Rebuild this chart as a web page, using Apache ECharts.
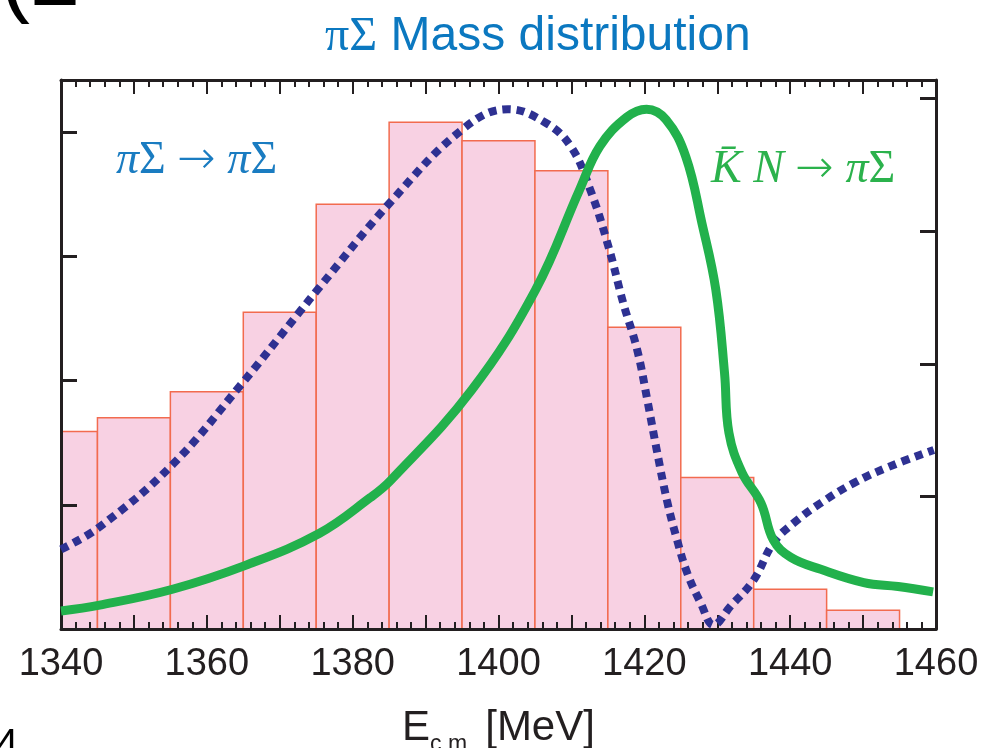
<!DOCTYPE html>
<html>
<head>
<meta charset="utf-8">
<script src="https://cdn.jsdelivr.net/npm/echarts@6/dist/echarts.min.js"></script>
<style>
  html, body { margin: 0; padding: 0; background: #fff; }
  #chart { width: 982px; height: 748px; }
</style>
</head>
<body>
<div id="chart"></div>
<script>
// histogram bins: [low edge, high edge, height]
var binLow  = [1340, 1345, 1355, 1365, 1375, 1385, 1395, 1405, 1415, 1425, 1435, 1445];
var binHigh = [1345, 1355, 1365, 1375, 1385, 1395, 1405, 1415, 1425, 1435, 1445, 1455];
var binVal  = [1.59, 1.70, 1.91, 2.55, 3.42, 4.08, 3.93, 3.69, 2.43, 1.22, 0.32, 0.15];

// KbarN -> piSigma (green solid)
var knX = [1340, 1345.3, 1355.3, 1365.3, 1375.4, 1382.4, 1385.2, 1396.3, 1405.1, 1411.1, 1413.9, 1417.6, 1420.3, 1423.0, 1425.7, 1427.9, 1429.8, 1431.0, 1431.6, 1433.4, 1436.0, 1437.7, 1440.1, 1444.2, 1450.1, 1454.8, 1459.6];
var knY = [0.136, 0.18, 0.30, 0.48, 0.72, 0.99, 1.12, 1.80, 2.56, 3.31, 3.64, 3.86, 3.92, 3.84, 3.56, 3.06, 2.56, 1.93, 1.48, 1.18, 0.95, 0.67, 0.54, 0.45, 0.35, 0.32, 0.28];

// piSigma -> piSigma (navy dotted)
var psX = [1340, 1345.3, 1355.3, 1364.5, 1372.7, 1375.2, 1385.2, 1395.1, 1401.3, 1406.4, 1409.9, 1412.6, 1415.1, 1417.1, 1419.0, 1420.4, 1421.7, 1423.1, 1424.5, 1425.9, 1427.7, 1429.5, 1431.8, 1435.0, 1437.7, 1440.5, 1444.2, 1448.7, 1453.4, 1459.7];
var psY = [0.60, 0.77, 1.24, 1.83, 2.39, 2.56, 3.22, 3.77, 3.92, 3.82, 3.64, 3.31, 2.88, 2.46, 2.11, 1.73, 1.35, 0.97, 0.67, 0.42, 0.20, 0.03, 0.17, 0.37, 0.65, 0.80, 0.95, 1.10, 1.22, 1.35];

var xLabelStep = 20;

function pairs(xs, ys) {
  return xs.map(function (x, i) { return [x, ys[i]]; });
}

var myChart = echarts.init(document.getElementById('chart'));

var axisBase = {
  min: 1340,
  max: 1460,
  interval: 10,
  z: 4,
  axisLine: { onZero: false, lineStyle: { color: '#231f20', width: 3 } },
  axisTick: { inside: true, length: 14, lineStyle: { color: '#231f20', width: 2 } },
  minorTick: { show: true, splitNumber: 5, length: 7, lineStyle: { color: '#231f20', width: 2 } },
  splitLine: { show: false }
};

// math-style label (italic serif letters, long thin arrow)
function mathStyle(text, color) {
  return {
    text: text,
    fontFamily: 'Liberation Serif', fontSize: 46, fill: color,
    rich: {
      i: { fontFamily: 'Liberation Serif', fontStyle: 'italic', fontSize: 46, fill: color },
      a: { fontFamily: 'DejaVu Sans', fontWeight: 200, fontSize: 46, fill: color }
    }
  };
}

var option = {
  animation: false,
  title: {
    text: '{s|πΣ} Mass distribution',
    left: 320,
    top: 8,
    textStyle: {
      fontFamily: 'Liberation Sans',
      fontSize: 48,
      fontWeight: 'normal',
      color: '#0b78c0',
      rich: { s: { fontFamily: 'Liberation Serif', fontSize: 48, color: '#0b78c0' } }
    }
  },
  grid: { left: 61, right: 46, top: 80, bottom: 119, outerBoundsMode: 'none' },
  xAxis: [
    Object.assign({}, axisBase, {
      type: 'value',
      position: 'bottom',
      name: '{e|E}{sub|c.m.} [MeV]',
      nameLocation: 'middle',
      nameGap: 72,
      nameTextStyle: {
        fontFamily: 'Liberation Sans', fontSize: 42, color: '#231f20',
        rich: {
          e: { fontFamily: 'Liberation Sans', fontSize: 42, color: '#231f20' },
          sub: { fontFamily: 'Liberation Sans', fontSize: 23, color: '#231f20', verticalAlign: 'bottom', padding: [32, 0, 0, 0] }
        }
      },
      axisLabel: {
        margin: 17,
        fontFamily: 'Liberation Sans',
        fontSize: 38,
        color: '#231f20',
        formatter: function (v) { return v % xLabelStep === 0 ? String(v) : ''; }
      }
    }),
    Object.assign({}, axisBase, {
      type: 'value',
      position: 'top',
      axisLabel: { show: false }
    })
  ],
  yAxis: [
    {
      type: 'value', position: 'left', min: 0, max: 4.42, interval: 1, z: 4,
      axisLine: { show: true, lineStyle: { color: '#231f20', width: 3 } },
      axisTick: { show: true, inside: true, length: 16, lineStyle: { color: '#231f20', width: 3 } },
      axisLabel: { show: false },
      splitLine: { show: false }
    },
    {
      type: 'value', position: 'right', min: 0, max: 4.14, interval: 1, z: 4,
      axisLine: { show: true, lineStyle: { color: '#231f20', width: 3 } },
      axisTick: { show: true, inside: true, length: 16, lineStyle: { color: '#231f20', width: 3 } },
      axisLabel: { show: false },
      splitLine: { show: false }
    }
  ],
  graphic: [
    {
      type: 'text', left: 116, top: 138, z: 10,
      style: mathStyle('{i|π}Σ {a|→} {i|π}Σ', '#1a7cc1')
    },
    {
      type: 'text', left: 711, top: 147, z: 10,
      style: mathStyle('{i|K̄ N} {a|→} {i|π}Σ', '#2bb24c')
    },
    {
      type: 'text', left: 0, top: -65, z: 10,
      style: { text: '(2', fontFamily: 'Liberation Sans', fontSize: 90, fill: '#000' }
    },
    {
      type: 'text', left: -4, top: 726, z: 10,
      style: { text: '4', fontFamily: 'Liberation Sans', fontSize: 40, fill: '#000' }
    }
  ],
  series: [
    {
      name: 'hist',
      type: 'custom',
      xAxisIndex: 0,
      yAxisIndex: 0,
      z: 1,
      encode: { x: [0, 1], y: 2 },
      data: binLow.map(function (lo, i) { return [lo, binHigh[i], binVal[i]]; }),
      renderItem: function (params, api) {
        var p0 = api.coord([api.value(0), 0]);
        var p1 = api.coord([api.value(1), api.value(2)]);
        return {
          type: 'rect',
          shape: { x: p0[0], y: p1[1], width: p1[0] - p0[0], height: p0[1] - p1[1] },
          style: { fill: '#f8d1e3', stroke: '#f26b4f', lineWidth: 1.5 }
        };
      }
    },
    {
      name: 'piSigma',
      type: 'line',
      xAxisIndex: 0,
      yAxisIndex: 1,
      z: 5,
      smooth: 0.4,
      showSymbol: false,
      lineStyle: { color: '#2e3192', width: 8, type: [8, 6], cap: 'butt' },
      data: pairs(psX, psY)
    },
    {
      name: 'KbarN',
      type: 'line',
      xAxisIndex: 0,
      yAxisIndex: 1,
      z: 6,
      smooth: 0.4,
      showSymbol: false,
      lineStyle: { color: '#22b14c', width: 9 },
      data: pairs(knX, knY)
    }
  ]
};

myChart.setOption(option);
window.addEventListener('resize', function () {
  myChart.resize();
});
</script>
</body>
</html>
